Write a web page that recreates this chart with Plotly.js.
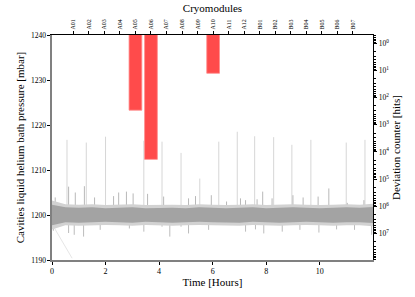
<!DOCTYPE html>
<html>
<head>
<meta charset="utf-8">
<script src="https://cdn.plot.ly/plotly-3.0.1.min.js"></script>
<style>html,body{margin:0;padding:0;background:#fff;}#chart{width:415px;height:297px;}</style>
</head>
<body>
<div id="chart"></div>
<script>
// ---- data ----
var modules = ['A01','A02','A03','A04','A05','A06','A07','A08','A09','A10','A11','A12',
               'B01','B02','B03','B04','B05','B06','B07'];
var deviationModules = ['A05','A06','A10'];
var deviationHits = [288, 18700, 12.6];

var deviationTickVals = [1, 10, 100, 1000, 10000, 100000, 1000000, 10000000];
var deviationTickText = ['10<sup>0</sup>','10<sup>1</sup>','10<sup>2</sup>','10<sup>3</sup>',
                         '10<sup>4</sup>','10<sup>5</sup>','10<sup>6</sup>','10<sup>7</sup>'];

// envelope of the dense pressure noise band (every 0.5 h)
var bandHours = [0,0.5,1,1.5,2,2.5,3,3.5,4,4.5,5,5.5,6,6.5,7,7.5,8,8.5,9,9.5,10,10.5,11,11.5,12];
var fuzzUpper = [1203.2,1202.4,1202.3,1202.4,1202.2,1202.3,1202.4,1202.2,1202.3,1202.3,1202.2,1202.4,
                 1202.3,1202.2,1202.3,1202.4,1202.2,1202.3,1202.4,1202.3,1202.2,1202.3,1202.4,1202.3,1202.5];
var fuzzLower = [1196.8,1197.7,1197.6,1197.7,1197.8,1197.7,1197.6,1197.8,1197.7,1197.6,1197.7,1197.8,
                 1197.7,1197.7,1197.6,1197.8,1197.7,1197.6,1197.7,1197.8,1197.7,1197.6,1197.7,1197.7,1197.5];
var bandUpper = [1202.3,1201.7,1201.6,1201.7,1201.5,1201.6,1201.7,1201.5,1201.6,1201.6,1201.5,1201.7,
                 1201.6,1201.5,1201.6,1201.7,1201.5,1201.6,1201.7,1201.6,1201.5,1201.6,1201.7,1201.6,1201.8];
var bandLower = [1197.7,1198.4,1198.3,1198.4,1198.5,1198.4,1198.3,1198.5,1198.4,1198.3,1198.4,1198.5,
                 1198.4,1198.4,1198.3,1198.5,1198.4,1198.3,1198.4,1198.5,1198.4,1198.3,1198.4,1198.4,1198.2];
var baseline = 1200;

// tall thin upward spikes
var tallSpikeHours = [0.56,1.28,2.0,3.43,4.11,4.82,5.52,6.23,6.92,7.57,8.28,8.96,9.67,10.99,11.69];
var tallSpikePeaks = [1216.7,1216.1,1217.4,1216.5,1216.3,1213.8,1208.1,1216.3,1218.5,1217.5,1217.3,1215.6,1216.7,1216.1,1216.7];

// small upward spikes
var smallSpikeHours = [0.12,0.62,0.87,1.21,1.59,2.3,2.49,2.78,3.03,3.57,4.17,5.1,5.36,5.95,6.52,7.04,7.23,7.66,7.87,8.22,9.0,9.38,9.94,10.34,11.03,11.65];
var smallSpikePeaks = [1203.9,1206.3,1205.0,1206.4,1203.9,1204.2,1205.0,1205.2,1204.8,1204.7,1204.1,1203.7,1204.2,1204.4,1203.0,1203.7,1203.3,1203.5,1205.2,1203.7,1204.4,1203.9,1204.1,1205.9,1202.7,1203.3];

// downward dips
var dipHours = [0.05,0.62,0.83,1.18,1.8,2.89,3.43,4.11,4.4,4.82,5.1,5.85,7.23,7.6,7.91,8.6,9.26,9.97,10.63,11.3,11.94];
var dipBottoms = [1196.5,1196.0,1195.6,1195.2,1196.7,1197.0,1196.3,1197.4,1195.2,1197.4,1195.9,1196.7,1196.3,1196.8,1195.9,1196.3,1196.7,1196.1,1196.8,1196.7,1195.6];

// faint stray line at the start
var strayHours = [0.06, 0.75];
var strayValues = [1197.4, 1190.4];

// ---- build traces ----
function segments(hours, ends) {
  var xs = [], ys = [];
  for (var i = 0; i < hours.length; i++) {
    xs.push(hours[i], hours[i], null);
    ys.push(baseline, ends[i], null);
  }
  return {x: xs, y: ys};
}
var tall = segments(tallSpikeHours, tallSpikePeaks);
var small = segments(smallSpikeHours, smallSpikePeaks);
var dips = segments(dipHours, dipBottoms);

var serif = 'Liberation Serif, Times New Roman, serif';
var none = {width: 0, color: 'rgba(0,0,0,0)'};

var traces = [
  {x: strayHours, y: strayValues, mode: 'lines', line: {color: '#e6e6e6', width: 1}, hoverinfo: 'skip', xaxis: 'x', yaxis: 'y'},
  {x: tall.x, y: tall.y, mode: 'lines', line: {color: '#d6d6d6', width: 1}, hoverinfo: 'skip', xaxis: 'x', yaxis: 'y'},
  {x: small.x, y: small.y, mode: 'lines', line: {color: '#b8b8b8', width: 1}, hoverinfo: 'skip', xaxis: 'x', yaxis: 'y'},
  {x: dips.x, y: dips.y, mode: 'lines', line: {color: '#bcbcbc', width: 1}, hoverinfo: 'skip', xaxis: 'x', yaxis: 'y'},
  {x: bandHours, y: fuzzLower, mode: 'lines', line: none, hoverinfo: 'skip', xaxis: 'x', yaxis: 'y'},
  {x: bandHours, y: fuzzUpper, mode: 'lines', line: none, fill: 'tonexty', fillcolor: '#d2d2d2', hoverinfo: 'skip', xaxis: 'x', yaxis: 'y'},
  {x: bandHours, y: bandLower, mode: 'lines', line: none, hoverinfo: 'skip', xaxis: 'x', yaxis: 'y'},
  {x: bandHours, y: bandUpper, mode: 'lines', line: none, fill: 'tonexty', fillcolor: '#a3a3a3', hoverinfo: 'skip', xaxis: 'x', yaxis: 'y'},
  {type: 'bar', x: deviationModules, y: deviationHits, width: 0.82,
   marker: {color: '#ff4b4b', line: {color: '#ff8c8c', width: 0.8}},
   xaxis: 'x2', yaxis: 'y2', hoverinfo: 'skip'}
];

var layout = {
  width: 415, height: 297,
  margin: {l: 52, r: 42, t: 35, b: 37, pad: 0},
  paper_bgcolor: '#fff', plot_bgcolor: '#fff',
  showlegend: false,
  font: {family: serif, color: '#000'},
  xaxis: {
    range: [0, 11.99], tick0: 0, dtick: 2, ticks: 'outside', ticklen: 3, tickcolor: '#000',
    showline: true, linecolor: '#808080', linewidth: 1.6, showgrid: false, zeroline: false,
    tickfont: {size: 8, family: serif},
    title: {text: 'Time [Hours]', font: {size: 11, family: serif}, standoff: 3}
  },
  yaxis: {
    range: [1190, 1240], dtick: 10, ticks: 'outside', ticklen: 3, tickcolor: '#000',
    showline: true, linecolor: '#808080', linewidth: 1.6, showgrid: false, zeroline: false,
    tickfont: {size: 7.5, family: serif},
    title: {text: 'Cavities liquid helium bath pressure [mbar]', font: {size: 11, family: serif}, standoff: 4}
  },
  xaxis2: {
    overlaying: 'x', side: 'top', type: 'category', categoryorder: 'array', categoryarray: modules,
    tickmode: 'array', tickvals: modules, ticktext: modules,
    range: [-1.37, 19.29], tickangle: -90, ticks: 'outside', ticklen: 3, tickcolor: '#000',
    showline: true, linecolor: '#000', linewidth: 1.2, showgrid: false, zeroline: false,
    tickfont: {size: 6, family: serif},
    title: {text: 'Cryomodules', font: {size: 11, family: serif}, standoff: 4}
  },
  yaxis2: {
    overlaying: 'y', side: 'right', type: 'log', range: [7.98, -0.31],
    tickmode: 'array', tickvals: deviationTickVals, ticktext: deviationTickText,
    ticks: 'outside', ticklen: 3, tickcolor: '#000',
    minor: {dtick: 'D1', ticks: 'outside', ticklen: 1.5, tickcolor: '#000'},
    showline: true, linecolor: '#000', linewidth: 1.2, showgrid: false, zeroline: false,
    tickfont: {size: 7.5, family: serif},
    title: {text: 'Deviation counter [hits]', font: {size: 11, family: serif}, standoff: 4}
  }
};

Plotly.newPlot('chart', traces, layout, {staticPlot: true, displayModeBar: false});
</script>
</body>
</html>
